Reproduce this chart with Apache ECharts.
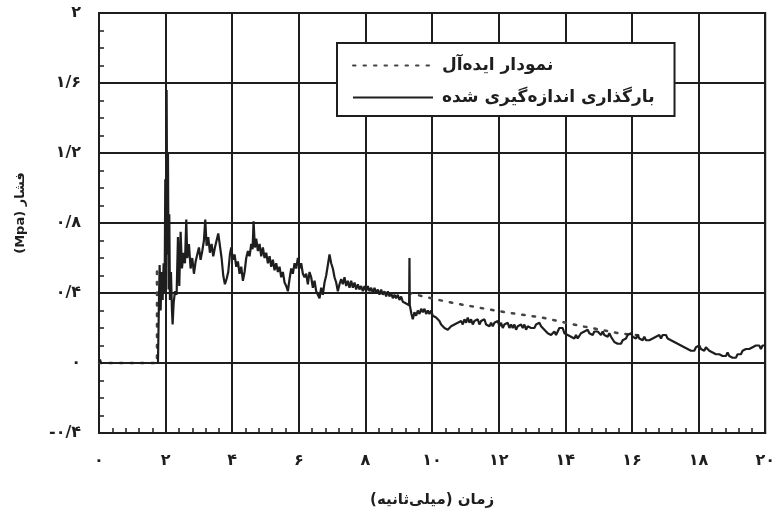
<!DOCTYPE html>
<html>
<head>
<meta charset="utf-8">
<script src="https://cdn.jsdelivr.net/npm/echarts@6/dist/echarts.min.js"></script>
<style>html,body{margin:0;padding:0;background:#fff;}#c{width:778px;height:519px;}</style>
</head>
<body>
<div id="c"></div>
<script>
// ---- data ----
const seriesNames = ['نمودار ایده\u200Cآل', 'بارگذاری اندازه\u200Cگیری شده'];
const xAxisTitle = '\u200Fزمان (میلی\u200Cثانیه)\u200F';
const yAxisTitle = '(Mpa) فشار';
const xTicks = [0, 2, 4, 6, 8, 10, 12, 14, 16, 18, 20];
const yTicks = [-0.4, 0, 0.4, 0.8, 1.2, 1.6, 2];

// ideal (dotted) curve: [time ms, pressure MPa]
const idealLoad = [[0,0],[1.74,0],[1.74,0.56],[1.74,'-'],[9.3,0.40],[10.2,0.36],[11.0,0.33],[12.2,0.29],[13.3,0.26],[14.5,0.21],[15.6,0.17],[16.4,0.155]];

// measured loading: [time ms, pressure MPa]
const measuredLoad = [
[0,0],[0.03,0.02],[0.06,0],[1.77,0],
[1.80,0.36],[1.82,0.56],[1.85,0.3],[1.88,0.52],[1.91,0.36],[1.94,0.57],[1.97,0.4],[1.99,1.05],[2.01,0.55],[2.03,1.56],[2.05,0.62],[2.07,1.2],[2.09,0.42],[2.11,0.85],[2.13,0.36],[2.16,0.52],[2.19,0.3],[2.21,0.22],[2.24,0.34],[2.28,0.41],[2.33,0.39],
[2.37,0.72],[2.41,0.44],[2.45,0.75],[2.49,0.54],[2.54,0.63],[2.58,0.57],[2.62,0.82],[2.65,0.6],[2.7,0.68],[2.75,0.54],[2.8,0.6],[2.85,0.51],[2.9,0.58],[2.95,0.62],[3.0,0.66],[3.05,0.59],[3.1,0.64],[3.15,0.7],[3.19,0.82],[3.23,0.67],[3.28,0.72],[3.33,0.63],[3.38,0.68],[3.43,0.61],[3.48,0.66],[3.53,0.7],[3.58,0.74],[3.63,0.67],[3.68,0.6],[3.73,0.5],[3.78,0.45],[3.83,0.48],[3.88,0.52],[3.93,0.62],[3.97,0.66],
[4.02,0.59],[4.07,0.62],[4.12,0.55],[4.17,0.58],[4.22,0.51],[4.27,0.55],[4.32,0.47],[4.37,0.52],[4.42,0.6],[4.47,0.64],[4.52,0.61],[4.57,0.68],[4.61,0.65],[4.64,0.81],[4.68,0.66],[4.72,0.71],[4.77,0.64],[4.82,0.68],[4.87,0.61],[4.92,0.66],[4.97,0.6],
[5.02,0.63],[5.07,0.57],[5.12,0.61],[5.17,0.55],[5.22,0.59],[5.27,0.53],[5.32,0.57],[5.37,0.52],[5.42,0.55],[5.47,0.49],[5.52,0.52],[5.57,0.46],[5.62,0.44],[5.67,0.41],[5.72,0.48],[5.77,0.54],[5.82,0.51],[5.87,0.57],[5.92,0.54],[5.97,0.6],
[6.02,0.54],[6.07,0.57],[6.12,0.51],[6.17,0.49],[6.22,0.51],[6.27,0.45],[6.32,0.52],[6.37,0.49],[6.42,0.43],[6.47,0.47],[6.52,0.41],[6.57,0.4],[6.62,0.37],[6.67,0.43],[6.72,0.39],[6.77,0.46],[6.82,0.5],[6.87,0.56],[6.92,0.62],[6.97,0.57],
[7.02,0.54],[7.07,0.49],[7.12,0.46],[7.17,0.41],[7.22,0.45],[7.27,0.48],[7.32,0.45],[7.37,0.49],[7.42,0.44],[7.47,0.47],[7.52,0.43],[7.57,0.47],[7.62,0.43],[7.67,0.46],[7.72,0.42],[7.77,0.45],[7.82,0.42],[7.87,0.44],[7.92,0.41],[7.97,0.44],
[8.02,0.41],[8.07,0.44],[8.12,0.41],[8.17,0.43],[8.22,0.4],[8.27,0.43],[8.32,0.4],[8.37,0.42],[8.42,0.39],[8.47,0.42],[8.52,0.39],[8.57,0.41],[8.62,0.38],[8.67,0.41],[8.72,0.38],[8.77,0.4],[8.82,0.37],[8.87,0.39],[8.92,0.37],[8.97,0.39],
[9.02,0.36],[9.07,0.38],[9.12,0.35],[9.17,0.36],[9.22,0.34],[9.28,0.35],[9.31,0.33],[9.32,0.6],[9.33,0.33],[9.38,0.28],[9.42,0.25],[9.47,0.29],[9.52,0.27],[9.57,0.3],[9.62,0.28],[9.67,0.31],[9.72,0.29],[9.77,0.31],[9.82,0.28],[9.87,0.3],[9.92,0.28],[9.97,0.3],
[10.02,0.27],[10.07,0.28],[10.12,0.26],[10.17,0.25],[10.22,0.24],[10.27,0.22],[10.32,0.23],[10.37,0.2],[10.42,0.21],[10.47,0.19],[10.52,0.2],[10.57,0.21],[10.62,0.2],[10.67,0.22],[10.72,0.21],[10.77,0.23],[10.82,0.22],[10.87,0.24],[10.92,0.22],[10.97,0.25],
[11.02,0.23],[11.07,0.26],[11.12,0.23],[11.17,0.25],[11.22,0.22],[11.27,0.24],[11.32,0.23],[11.37,0.25],[11.42,0.22],[11.47,0.24],[11.52,0.23],[11.57,0.25],[11.62,0.22],[11.67,0.23],[11.72,0.21],[11.77,0.23],[11.82,0.21],[11.87,0.23],[11.92,0.22],[11.97,0.24],
[12.02,0.21],[12.07,0.23],[12.12,0.2],[12.17,0.22],[12.22,0.21],[12.27,0.23],[12.32,0.2],[12.37,0.22],[12.42,0.2],[12.47,0.22],[12.52,0.19],[12.57,0.21],[12.62,0.2],[12.67,0.22],[12.72,0.2],[12.77,0.22],[12.82,0.19],[12.87,0.21],[12.92,0.22],[12.97,0.2],
[13.02,0.21],[13.07,0.2],[13.12,0.22],[13.17,0.21],[13.22,0.23],[13.27,0.21],[13.32,0.22],[13.37,0.19],[13.42,0.18],[13.47,0.17],[13.52,0.18],[13.57,0.16],[13.62,0.17],[13.67,0.18],[13.72,0.16],[13.77,0.18],[13.82,0.2],[13.87,0.19],[13.92,0.2],[13.97,0.17],
[14.02,0.18],[14.07,0.16],[14.12,0.17],[14.17,0.15],[14.22,0.16],[14.27,0.14],[14.32,0.16],[14.37,0.14],[14.42,0.15],[14.47,0.17],[14.52,0.16],[14.57,0.18],[14.62,0.17],[14.67,0.19],[14.72,0.17],[14.77,0.18],[14.82,0.16],[14.87,0.18],[14.92,0.17],[14.97,0.18],
[15.02,0.17],[15.07,0.16],[15.12,0.18],[15.17,0.16],[15.22,0.17],[15.27,0.15],[15.32,0.17],[15.37,0.15],[15.42,0.14],[15.47,0.12],[15.52,0.13],[15.57,0.11],[15.62,0.12],[15.67,0.11],[15.72,0.13],[15.77,0.12],[15.82,0.14],[15.87,0.16],[15.92,0.15],[15.97,0.17],
[16.02,0.15],[16.07,0.16],[16.12,0.14],[16.17,0.16],[16.22,0.14],[16.27,0.15],[16.32,0.13],[16.37,0.15],[16.42,0.13],[16.47,0.12],[16.52,0.13],[16.57,0.12],[16.62,0.14],[16.67,0.13],[16.72,0.15],[16.77,0.14],[16.82,0.16],[16.87,0.14],[16.92,0.16],[16.97,0.15],
[17.02,0.16],[17.07,0.14],[17.12,0.15],[17.17,0.13],[17.22,0.14],[17.27,0.12],[17.32,0.13],[17.37,0.11],[17.42,0.12],[17.47,0.1],[17.52,0.11],[17.57,0.09],[17.62,0.1],[17.67,0.08],[17.72,0.09],[17.77,0.07],[17.82,0.08],[17.87,0.07],[17.92,0.09],[17.97,0.08],
[18.02,0.1],[18.07,0.08],[18.12,0.09],[18.17,0.07],[18.22,0.09],[18.27,0.08],[18.32,0.07],[18.37,0.08],[18.42,0.06],[18.47,0.07],[18.52,0.05],[18.57,0.06],[18.62,0.05],[18.67,0.06],[18.72,0.04],[18.77,0.05],[18.82,0.04],[18.87,0.06],[18.92,0.04],[18.97,0.05],
[19.02,0.03],[19.07,0.04],[19.12,0.03],[19.17,0.05],[19.22,0.06],[19.27,0.05],[19.32,0.07],[19.37,0.06],[19.42,0.08],[19.47,0.07],[19.52,0.08],[19.57,0.07],[19.62,0.09],[19.67,0.08],[19.72,0.1],[19.77,0.09],[19.82,0.1],[19.87,0.08],[19.92,0.1],[19.97,0.09],[20,0.1]
];

// ---- helpers ----
const faDigits = '۰۱۲۳۴۵۶۷۸۹';
function toFa(v) {
  const r = Math.round(v * 10) / 10;
  let s = String(Math.abs(r)).replace(/\d/g, d => faDigits[d]).replace('.', '/');
  return (r < 0 ? '-' : '') + s;
}
const FONT = 'DejaVu Sans';
const INK = '#1e1e1e';

const chart = echarts.init(document.getElementById('c'), null, {renderer: 'canvas'});
chart.setOption({
  backgroundColor: '#fff',
  animation: false,
  color: ['#444', INK],
  grid: {left: 99, right: 9, top: 13, bottom: 86, show: true, borderColor: INK, borderWidth: 2, backgroundColor: 'transparent'},
  legend: {
    orient: 'vertical', left: 337, top: 43,
    itemWidth: 80, itemHeight: 14, itemGap: 15,
    padding: [14, 20, 10, 15],
    borderColor: INK, borderWidth: 2, backgroundColor: '#fff',
    itemStyle: {color: 'transparent', borderColor: 'transparent', borderWidth: 0, opacity: 0},
    textStyle: {fontFamily: FONT, fontWeight: 'bold', fontSize: 17, color: INK, padding: [0, 0, 0, 4]},
    data: seriesNames
  },
  xAxis: {
    type: 'value', min: xTicks[0], max: xTicks[xTicks.length - 1], interval: 2,
    name: xAxisTitle, nameLocation: 'middle', nameGap: 60,
    nameTextStyle: {fontFamily: FONT, fontWeight: 'bold', fontSize: 15, color: INK},
    axisLine: {show: true, onZero: false, lineStyle: {color: INK, width: 2}},
    axisTick: {show: true, inside: true, length: 6, lineStyle: {color: INK, width: 2}},
    minorTick: {show: true, splitNumber: 5, length: 5, lineStyle: {color: INK, width: 1.5}},
    splitLine: {show: true, lineStyle: {color: INK, width: 2}},
    axisLabel: {margin: 20, fontFamily: FONT, fontWeight: 'bold', fontSize: 16, color: INK, formatter: v => toFa(v)}
  },
  yAxis: {
    type: 'value', min: yTicks[0], max: yTicks[yTicks.length - 1], interval: 0.4,
    name: yAxisTitle, nameLocation: 'middle', nameGap: 72,
    nameTextStyle: {fontFamily: FONT, fontWeight: 'bold', fontSize: 13, color: INK, padding: [0, 0, 0, 20]},
    axisLine: {show: true, onZero: false, lineStyle: {color: INK, width: 2}},
    axisTick: {show: true, inside: true, length: 6, lineStyle: {color: INK, width: 2}},
    minorTick: {show: true, splitNumber: 4, length: 5, lineStyle: {color: INK, width: 1.5}},
    splitLine: {show: true, lineStyle: {color: INK, width: 2}},
    axisLabel: {margin: 18, fontFamily: FONT, fontWeight: 'bold', fontSize: 16, color: INK, formatter: v => toFa(v)}
  },
  series: [
    {
      name: seriesNames[0], type: 'line', data: idealLoad, showSymbol: false, symbol: 'none',
      connectNulls: false, z: 2, itemStyle: {color: '#444'},
      lineStyle: {color: '#444', width: 2.5, type: [2.5, 8], cap: 'round'}
    },
    {
      name: seriesNames[1], type: 'line', data: measuredLoad, showSymbol: false, symbol: 'none', z: 3,
      itemStyle: {color: INK},
      lineStyle: {color: INK, width: 2.2}
    }
  ]
});
</script>
</body>
</html>
